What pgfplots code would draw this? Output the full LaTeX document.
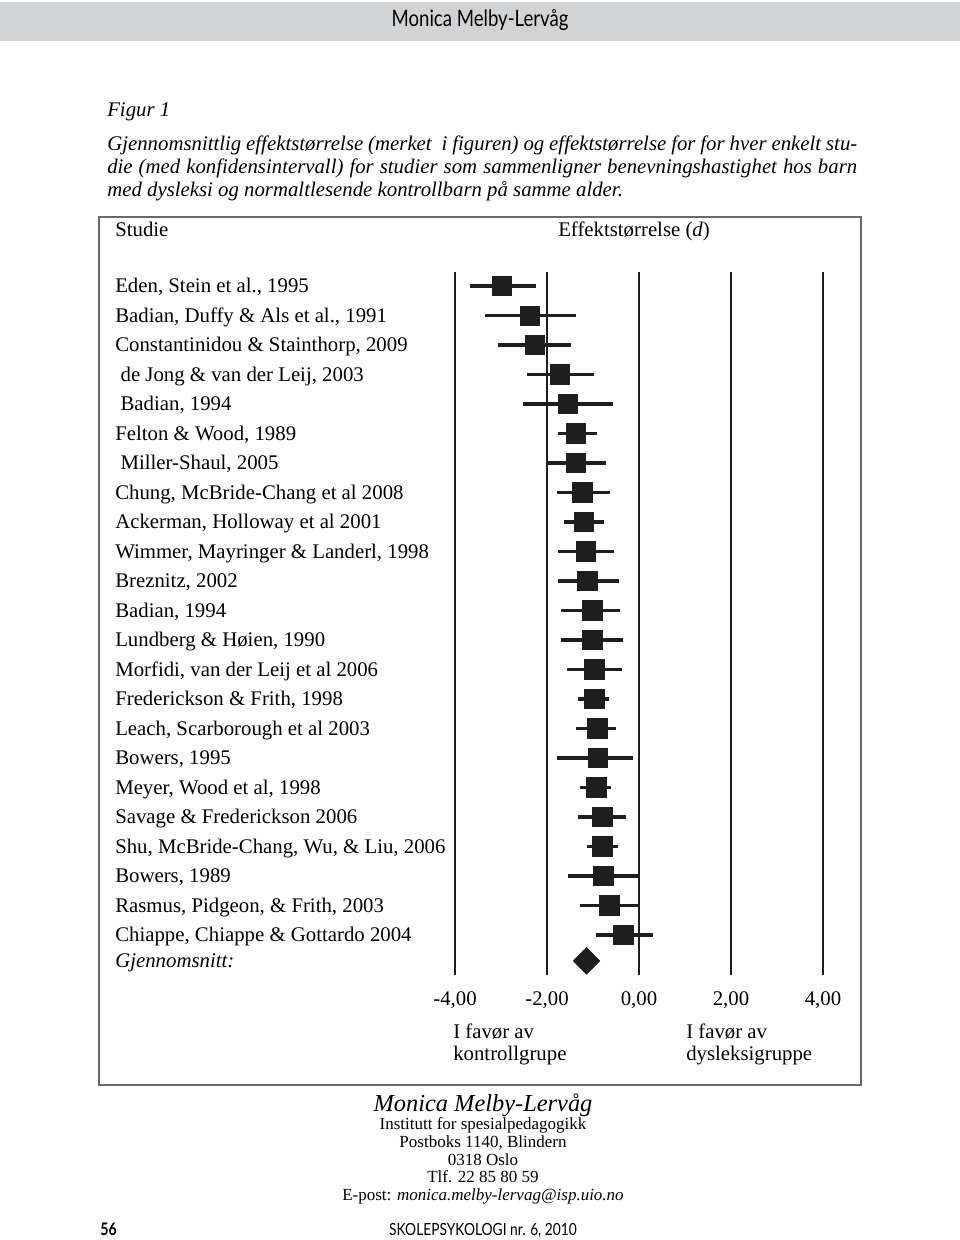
\documentclass[border=0pt]{standalone}
\usepackage{fontspec}
\setmainfont{Liberation Serif}
\usepackage{pgfplots}
\usepackage{pgfplotstable}
\pgfplotsset{compat=1.18}
\newfontfamily\hdrfont[FakeStretch=0.82]{Lato}
\definecolor{band}{RGB}{210,211,213}
\definecolor{frame}{RGB}{105,105,105}
\definecolor{ink}{RGB}{30,30,30}
\newcommand{\lbl}{\fontsize{15.6pt}{18pt}\selectfont}

\pgfplotstableread{
row x em ep
1 -2.98 0.69 0.74
2 -2.37 0.98 0.99
3 -2.27 0.80 0.79
4 -1.72 0.72 0.74
5 -1.55 0.97 0.98
6 -1.37 0.38 0.46
7 -1.37 0.64 0.65
8 -1.23 0.56 0.61
9 -1.20 0.42 0.44
10 -1.16 0.59 0.61
11 -1.12 0.63 0.69
12 -1.02 0.67 0.61
13 -1.02 0.67 0.68
14 -0.97 0.60 0.59
15 -0.97 0.35 0.32
16 -0.91 0.46 0.42
17 -0.90 0.88 0.76
18 -0.93 0.35 0.33
19 -0.80 0.52 0.51
20 -0.80 0.32 0.34
21 -0.78 0.76 0.78
22 -0.65 0.63 0.65
23 -0.34 0.60 0.64
}\studies

\begin{document}
\begin{tikzpicture}[x=0.75pt,y=0.75pt]
\path[use as bounding box] (0,0) rectangle (960,1240);
% header band
\fill[band] (0,1199) rectangle (960,1238);
\node[anchor=base] at (480,1213) {\hdrfont\fontsize{17pt}{18pt}\selectfont Monica Melby-Lervåg};

% caption
\node[anchor=base west,inner sep=0pt] at (107,1240-117) {\lbl\itshape Figur 1};
\node[anchor=base west,inner sep=0pt] at (107,1240-151) {\lbl\itshape\makebox[562.5pt][s]{Gjennomsnittlig effektstørrelse (merket \ i figuren) og effektstørrelse for for hver enkelt stu-}};
\node[anchor=base west,inner sep=0pt] at (107,1240-174) {\lbl\itshape\makebox[562.5pt][s]{die (med konfidensintervall) for studier som sammenligner benevningshastighet hos barn}};
\node[anchor=base west,inner sep=0pt] at (107,1240-197) {\lbl\itshape med dysleksi og normaltlesende kontrollbarn på samme alder.};

% frame
\draw[frame,line width=1.1pt] (99,1240-217) rectangle (861,1240-1085);

\node[anchor=base west,inner sep=0pt] at (115,1240-237) {\lbl Studie};
\node[anchor=base west,inner sep=0pt] at (558,1240-237) {\lbl Effektstørrelse (\textit{d})};

% study labels
\foreach \lab [count=\i] in {
{Eden, Stein et al., 1995},
{Badian, Duffy \& Als et al., 1991},
{Constantinidou \& Stainthorp, 2009},
{\hspace{4pt}de Jong \& van der Leij, 2003},
{\hspace{4pt}Badian, 1994},
{Felton \& Wood, 1989},
{\hspace{4pt}Miller-Shaul, 2005},
{Chung, McBride-Chang et al 2008},
{Ackerman, Holloway et al 2001},
{Wimmer, Mayringer \& Landerl, 1998},
{Breznitz, 2002},
{Badian, 1994},
{Lundberg \& Høien, 1990},
{Morfidi, van der Leij et al 2006},
{Frederickson \& Frith, 1998},
{Leach, Scarborough et al 2003},
{Bowers, 1995},
{Meyer, Wood et al, 1998},
{Savage \& Frederickson 2006},
{Shu, McBride-Chang, Wu, \& Liu, 2006},
{Bowers, 1989},
{Rasmus, Pidgeon, \& Frith, 2003},
{Chiappe, Chiappe \& Gottardo 2004}}
{
  \node[anchor=base west,inner sep=0pt] at (115,{1240-(286+(\i-1)*29.49+7)}) {\lbl \lab};
}
\node[anchor=base west,inner sep=0pt] at (115,1240-968) {\lbl\itshape Gjennomsnitt:};

\begin{axis}[
  at={(341.25pt,198.75pt)}, anchor=south west,
  scale only axis, width=276pt, height=527.25pt,
  xmin=-4, xmax=4, ymin=0.525, ymax=24.36, y dir=reverse,
  axis line style={draw=none},
  ytick=\empty,
  xtick={-4,-2,0,2,4},
  xticklabels={{-4,00},{-2,00},{0,00},{2,00},{4,00}},
  major tick length=0pt,
  xticklabel style={font=\lbl, anchor=base, yshift=-22.5pt},
  xmajorgrids, major grid style={ink, line width=1.6pt},
  clip=false,
]
\addplot[only marks, mark=square*, mark size=7.3pt, ink,
  error bars/.cd, x dir=both, x explicit, error mark=none,
  error bar style={line width=2.6pt, ink}]
  table[x=x, y=row, x error minus=em, x error plus=ep]{\studies};
\addplot[only marks, mark=square*, mark size=7.1pt, ink, mark options={rotate=45}]
  coordinates {(-1.14,23.88)};
\end{axis}

\node[anchor=base west,inner sep=0pt,align=left] at (453,1240-1039) {\lbl I favør av};
\node[anchor=base west,inner sep=0pt,align=left] at (453,1240-1061) {\lbl kontrollgrupe};
\node[anchor=base west,inner sep=0pt,align=left] at (686,1240-1039) {\lbl I favør av};
\node[anchor=base west,inner sep=0pt,align=left] at (686,1240-1061) {\lbl dysleksigruppe};

% footer
\node[anchor=base] at (483,1240-1112) {\itshape\fontsize{18.3pt}{20pt}\selectfont Monica Melby-Lervåg};
\node[anchor=base] at (483,1240-1130) {\fontsize{12.75pt}{14pt}\selectfont Institutt for spesialpedagogikk};
\node[anchor=base] at (483,1240-1148) {\fontsize{12.75pt}{14pt}\selectfont Postboks 1140, Blindern};
\node[anchor=base] at (483,1240-1166) {\fontsize{12.75pt}{14pt}\selectfont 0318 Oslo};
\node[anchor=base] at (483,1240-1183) {\fontsize{12.75pt}{14pt}\selectfont Tlf. 22 85 80 59};
\node[anchor=base] at (483,1240-1201) {\fontsize{12.75pt}{14pt}\selectfont E-post: \textit{monica.melby-lervag@isp.uio.no}};
\node[anchor=base] at (483,1240-1235) {\hdrfont\fontsize{12.6pt}{13pt}\selectfont SKOLEPSYKOLOGI nr. 6, 2010};
\node[anchor=base west,inner sep=0pt] at (100,1240-1236) {\hdrfont\bfseries\fontsize{13pt}{14pt}\selectfont 56};
\end{tikzpicture}
\end{document}
